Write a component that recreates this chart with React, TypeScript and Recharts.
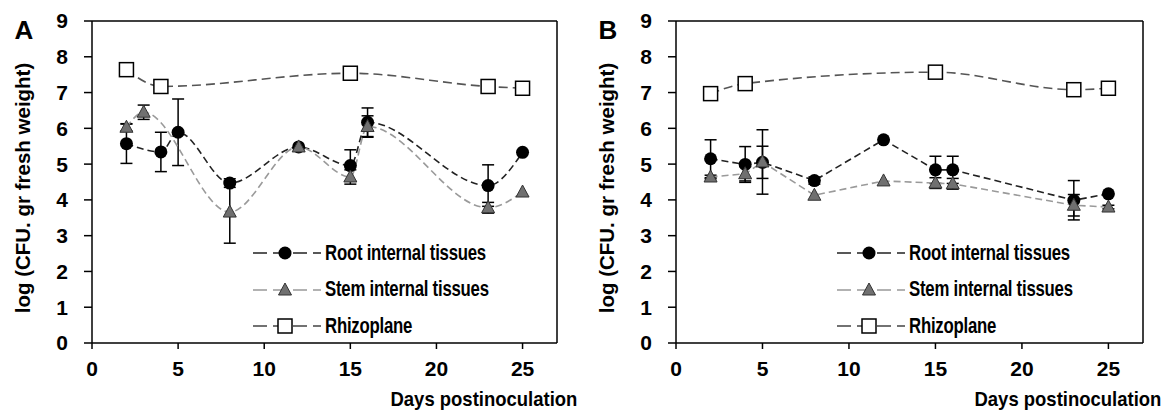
import React from "react";
import {
  LineChart,
  Line,
  XAxis,
  YAxis,
  ErrorBar,
  Legend,
  ReferenceLine,
} from "recharts";

// days sampled
const rootDays = [2, 4, 5, 8, 12, 15, 16, 23, 25];
const stemDaysA = [2, 3, 8, 12, 15, 16, 23, 25];
const stemDaysB = [2, 4, 5, 8, 12, 15, 16, 23, 25];
const rhizoDays = [2, 4, 15, 23, 25];

// panel A
const rootA = [5.57, 5.34, 5.89, 4.47, 5.48, 4.96, 6.17, 4.4, 5.33];
const rootErrA = [0.55, 0.55, 0.93, 0.12, 0, 0.44, 0.4, 0.58, 0];
const stemA = [6.03, 6.45, 3.66, 5.48, 4.64, 6.05, 3.78, 4.22];
const stemErrA = [0.1, 0.2, 0.87, 0, 0.2, 0.3, 0.15, 0];
const rhizoA = [7.64, 7.17, 7.54, 7.17, 7.12];

// panel B
const rootB = [5.15, 4.99, 5.05, 4.54, 5.68, 4.84, 4.84, 3.99, 4.17];
const rootErrB = [0.53, 0.5, 0.45, 0.1, 0, 0.38, 0.38, 0.55, 0];
const stemB = [4.64, 4.73, 5.06, 4.13, 4.53, 4.47, 4.45, 3.85, 3.8];
const stemErrB = [0.05, 0.2, 0.9, 0, 0, 0.15, 0.15, 0.3, 0.05];
const rhizoB = [6.97, 7.25, 7.57, 7.08, 7.12];

const xTicks = [0, 5, 10, 15, 20, 25];
const yTicks = [0, 1, 2, 3, 4, 5, 6, 7, 8, 9];

const FONT = "'Liberation Sans', Arial, sans-serif";

type Pt = { day: number; value: number; err: number };

function zip(days: number[], vals: number[], errs?: number[]): Pt[] {
  return days.map((d, i) => ({ day: d, value: vals[i], err: errs ? errs[i] : 0 }));
}

function circleDot(p: any) {
  if (p.cx == null || p.cy == null) return <g key={`c${p.index}`} />;
  return <circle key={`c${p.index}`} cx={p.cx} cy={p.cy} r={6.5} fill="#000" />;
}

function triangleDot(p: any) {
  if (p.cx == null || p.cy == null) return <g key={`t${p.index}`} />;
  const { cx, cy } = p;
  return (
    <path
      key={`t${p.index}`}
      d={`M${cx},${cy - 7}L${cx - 6.5},${cy + 5}L${cx + 6.5},${cy + 5}Z`}
      fill="#707070"
      stroke="#333"
      strokeWidth={1}
    />
  );
}

function squareDot(p: any) {
  if (p.cx == null || p.cy == null) return <g key={`s${p.index}`} />;
  return (
    <rect
      key={`s${p.index}`}
      x={p.cx - 7}
      y={p.cy - 7}
      width={14}
      height={14}
      fill="#fff"
      stroke="#000"
      strokeWidth={1.5}
    />
  );
}

const legendRows = [
  { label: "Root internal tissues", color: "#222", dot: circleDot },
  { label: "Stem internal tissues", color: "#999", dot: triangleDot },
  { label: "Rhizoplane", color: "#444", dot: squareDot },
];

function renderLegend() {
  return (
    <div style={{ fontFamily: FONT, fontWeight: 700, fontSize: 21.5, color: "#000" }}>
      {legendRows.map((r, i) => (
        <div key={r.label} style={{ display: "flex", alignItems: "center", height: 36.5 }}>
          <svg width={72} height={20} style={{ flex: "none" }}>
            <line
              x1={0}
              x2={68}
              y1={10}
              y2={10}
              stroke={r.color}
              strokeWidth={1.5}
              strokeDasharray="14 6"
            />
            {r.dot({ cx: 32, cy: 10, index: i })}
          </svg>
          <span
            style={{
              display: "inline-block",
              whiteSpace: "nowrap",
              transform: "scaleX(0.78)",
              transformOrigin: "left center",
              letterSpacing: -0.3,
            }}
          >
            {r.label}
          </span>
        </div>
      ))}
    </div>
  );
}

function Panel({
  left,
  letter,
  root,
  stem,
  rhizo,
  curve,
  marginRight,
}: {
  left: number;
  letter: string;
  root: Pt[];
  stem: Pt[];
  rhizo: Pt[];
  curve: "monotone" | "linear";
  marginRight: number;
}) {
  return (
    <div style={{ position: "absolute", left, top: 0, width: 584, height: 416 }}>
      <LineChart
        width={584}
        height={416}
        margin={{ top: 21, right: marginRight, bottom: 0, left: 0 }}
      >
        <XAxis
          type="number"
          dataKey="day"
          domain={[0, 27]}
          ticks={xTicks}
          allowDataOverflow
          height={73}
          tickSize={6}
          tickMargin={12}
          stroke="#000"
          strokeWidth={1.5}
          tick={{ fill: "#000", fontSize: 21, fontWeight: 700, fontFamily: FONT }}
        />
        <YAxis
          type="number"
          domain={[0, 9]}
          ticks={yTicks}
          width={92}
          tickSize={8}
          tickMargin={16}
          stroke="#000"
          strokeWidth={1.5}
          tick={{ fill: "#000", fontSize: 21, fontWeight: 700, fontFamily: FONT }}
        />
        <ReferenceLine y={9} stroke="#000" strokeWidth={1.5} />
        <ReferenceLine x={27} stroke="#000" strokeWidth={1.5} />
        <Line
          data={root}
          dataKey="value"
          type={curve}
          stroke="#222"
          strokeWidth={1.6}
          strokeDasharray="7 4"
          dot={circleDot}
          activeDot={false}
          isAnimationActive={false}
        >
          <ErrorBar dataKey="err" direction="y" width={6} stroke="#000" strokeWidth={1.5} />
        </Line>
        <Line
          data={stem}
          dataKey="value"
          type={curve}
          stroke="#9a9a9a"
          strokeWidth={1.6}
          strokeDasharray="7 4"
          dot={triangleDot}
          activeDot={false}
          isAnimationActive={false}
        >
          <ErrorBar dataKey="err" direction="y" width={6} stroke="#000" strokeWidth={1.5} />
        </Line>
        <Line
          data={rhizo}
          dataKey="value"
          type="monotone"
          stroke="#555"
          strokeWidth={1.6}
          strokeDasharray="9 5"
          dot={squareDot}
          activeDot={false}
          isAnimationActive={false}
        />
        <Legend
          layout="vertical"
          align="center"
          verticalAlign="middle"
          content={renderLegend}
          wrapperStyle={{ position: "absolute", left: 253, top: 235, width: "auto" }}
        />
      </LineChart>
      <div
        style={{
          position: "absolute",
          left: 24,
          top: 30,
          transform: "translate(-50%, -50%)",
          fontFamily: FONT,
          fontWeight: 700,
          fontSize: 26,
        }}
      >
        {letter}
      </div>
      <div
        style={{
          position: "absolute",
          left: 23,
          top: 188,
          transform: "translate(-50%, -50%) rotate(-90deg)",
          whiteSpace: "nowrap",
          fontFamily: FONT,
          fontWeight: 700,
          fontSize: 20.5,
        }}
      >
        log (CFU. gr fresh weight)
      </div>
      <div
        style={{
          position: "absolute",
          right: 584 - 577,
          top: 387,
          whiteSpace: "nowrap",
          fontFamily: FONT,
          fontWeight: 700,
          fontSize: 21,
          transform: "scaleX(0.88)",
          transformOrigin: "right center",
        }}
      >
        Days postinoculation
      </div>
    </div>
  );
}

export default function App() {
  return (
    <div
      style={{
        position: "absolute",
        left: 0,
        top: 0,
        width: 1168,
        height: 416,
        background: "#fff",
        overflow: "hidden",
      }}
    >
      <Panel
        left={0}
        letter="A"
        root={zip(rootDays, rootA, rootErrA)}
        stem={zip(stemDaysA, stemA, stemErrA)}
        rhizo={zip(rhizoDays, rhizoA)}
        curve="monotone"
        marginRight={27}
      />
      <Panel
        left={584}
        letter="B"
        root={zip(rootDays, rootB, rootErrB)}
        stem={zip(stemDaysB, stemB, stemErrB)}
        rhizo={zip(rhizoDays, rhizoB)}
        curve="linear"
        marginRight={25}
      />
    </div>
  );
}
